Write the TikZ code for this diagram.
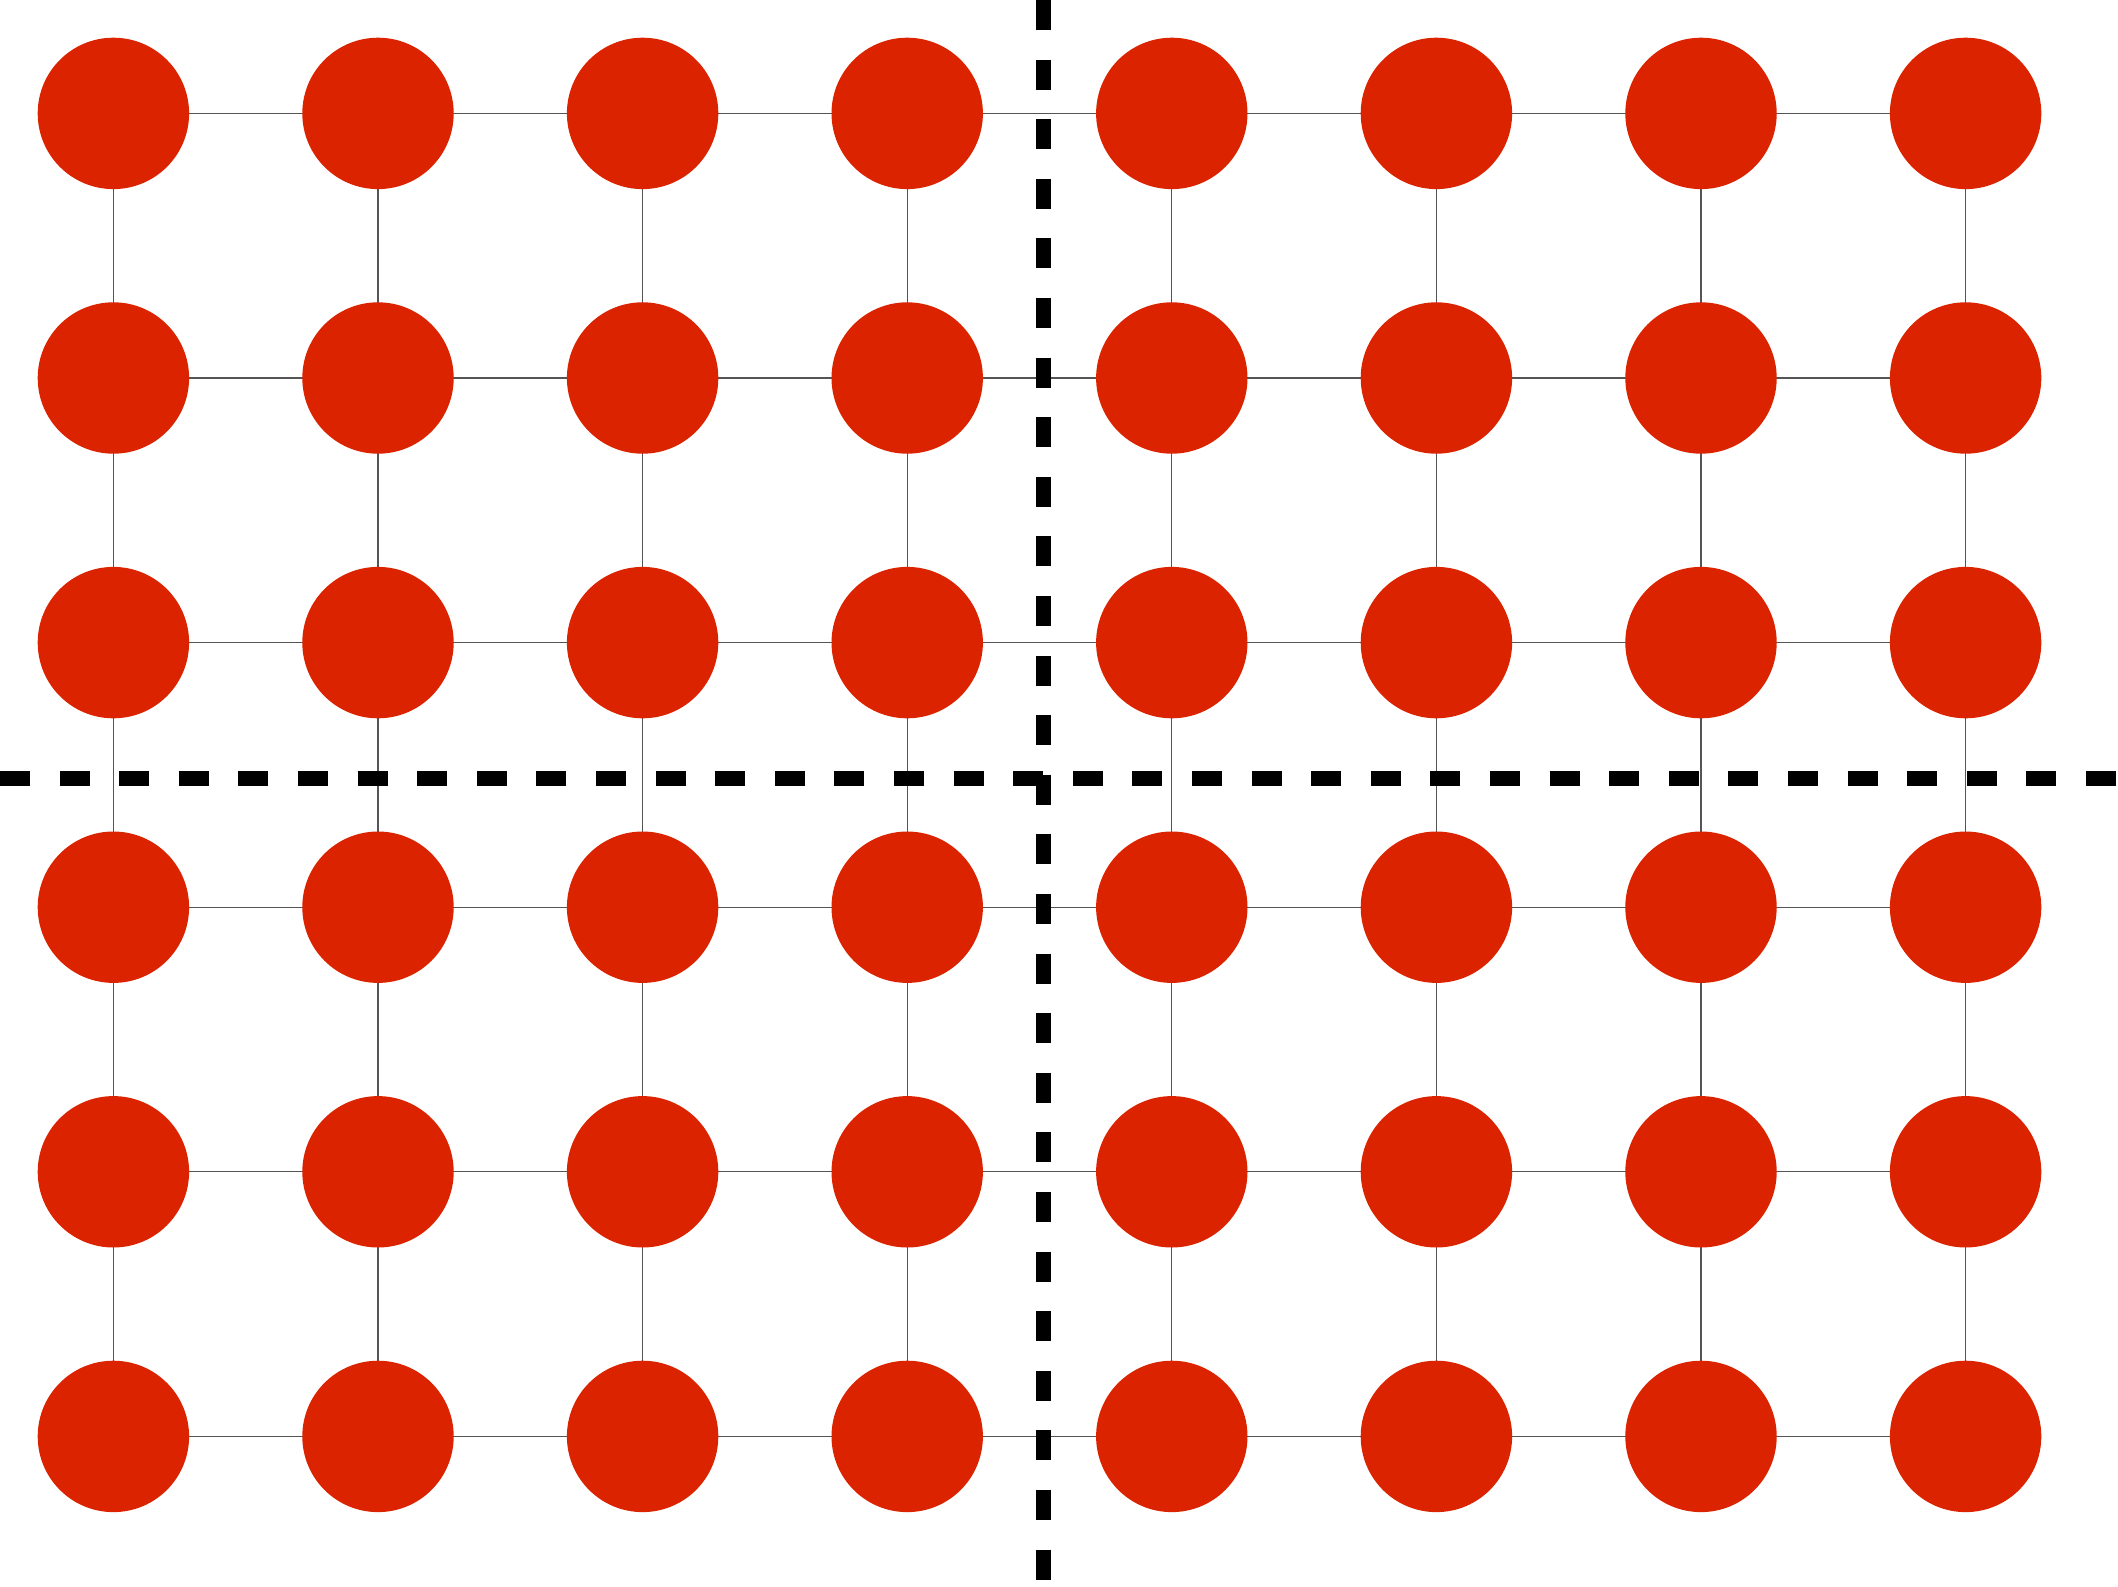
\documentclass[tikz,border=0pt]{standalone}
\definecolor{dotred}{RGB}{220,35,0}
\definecolor{linkgray}{RGB}{85,85,85}
\begin{document}
\begin{tikzpicture}[x=1pt,y=-1pt,
  dot/.style={circle,fill=dotred,draw=none,minimum size=151.4pt,inner sep=0pt},
  link/.style={draw=linkgray,line width=1.1pt},
  divider/.style={draw=black,line width=15pt,dash pattern=on 30pt off 29.6pt}]
\useasboundingbox (0,0) rectangle (2118,1587);
\foreach \i in {0,...,7}{
  \foreach \j in {0,...,5}{
    \coordinate (p\i-\j) at ({113.4+\i*264.6},{113.4+\j*264.6});
  }
}
% links
\foreach \j in {0,...,5}{
  \foreach \i [evaluate=\i as \k using int(\i+1)] in {0,...,6}{
    \draw[link] (p\i-\j) -- (p\k-\j);
  }
}
\foreach \i in {0,...,7}{
  \foreach \j [evaluate=\j as \k using int(\j+1)] in {0,...,4}{
    \draw[link] (p\i-\j) -- (p\i-\k);
  }
}
% dots
\foreach \i in {0,...,7}{
  \foreach \j in {0,...,5}{
    \node[dot] (n\i-\j) at (p\i-\j) {};
  }
}
% dividers
\coordinate (vtop) at (1043.3,0);
\coordinate (vbot) at (1043.3,1587);
\coordinate (hl) at (0,778.5);
\coordinate (hr) at (2118,778.5);
\draw[divider] (hl) -- (hr);
\draw[divider] (vtop) -- (vbot);
\end{tikzpicture}
\end{document}
